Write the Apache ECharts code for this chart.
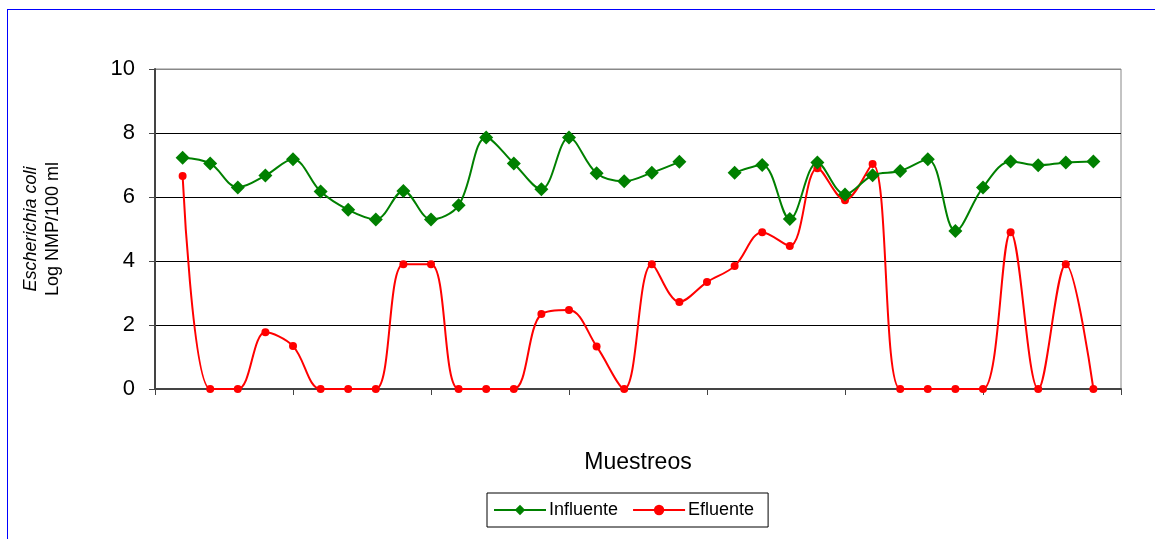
<!DOCTYPE html>
<html lang="es">

<head>
    <meta charset="UTF-8">
    <title>Escherichia coli - Muestreos</title>
    <style>
        body { margin: 0; background: #fff; }
        #frame {
            position: absolute; left: 7px; top: 9px; width: 1300px; height: 700px;
            border-left: 1px solid #0000ff; border-top: 1px solid #0000ff;
            z-index: 2; pointer-events: none;
        }
        #chart { position: absolute; left: 0; top: 0; width: 1155px; height: 539px; }
    </style>
</head>

<body>
    <div id="frame"></div>
    <div id="chart"></div>

    <script src="https://cdn.jsdelivr.net/npm/echarts@6/dist/echarts.min.js"></script>
    <script>
        // numero de muestreo (1..34)
        const muestreos = [1, 2, 3, 4, 5, 6, 7, 8, 9, 10, 11, 12, 13, 14, 15, 16, 17,
            18, 19, 20, 21, 22, 23, 24, 25, 26, 27, 28, 29, 30, 31, 32, 33, 34]

        // Log NMP/100 ml
        const influente = [7.23, 7.05, 6.3, 6.67, 7.18, 6.17, 5.6, 5.3, 6.19, 5.3,
            5.74, 7.86, 7.05, 6.24, 7.86, 6.74, 6.49, 6.76, 7.1, null,
            6.76, 7.0, 5.31, 7.08, 6.08, 6.68, 6.81, 7.18, 4.94, 6.3,
            7.11, 6.99, 7.08, 7.11]

        const efluente = [6.66, 0, 0, 1.77, 1.34, 0, 0, 0, 3.9, 3.9,
            0, 0, 0, 2.34, 2.47, 1.33, 0, 3.9, 2.72, 3.34,
            3.84, 4.9, 4.47, 6.9, 5.9, 7.03, 0, 0, 0, 0,
            4.9, 0, 3.9, 0]

        const yTicks = [0, 2, 4, 6, 8, 10]

        const pares = (vals) => muestreos.map((m, i) => [m, vals[i]])

        const myChart = echarts.init(document.getElementById('chart'))

        const option = {
            animation: false,
            textStyle: { fontFamily: 'Liberation Sans, Arial, sans-serif' },
            grid: {
                left: 155, right: 34, top: 69, bottom: 150,
                show: true, borderColor: '#888', borderWidth: 1
            },
            xAxis: {
                type: 'value',
                min: 0, max: 35, interval: 5,
                name: 'Muestreos',
                nameLocation: 'middle',
                nameGap: 62,
                nameTextStyle: { fontSize: 23, color: '#000' },
                axisLine: { lineStyle: { color: '#444', width: 2 } },
                axisTick: { show: true, length: 6, lineStyle: { color: '#444', width: 1 } },
                axisLabel: { show: false },
                splitLine: { show: false }
            },
            yAxis: {
                type: 'value',
                min: yTicks[0], max: yTicks[yTicks.length - 1], interval: 2,
                name: '{i|Escherichia coli}\n{n|Log NMP/100 ml}',
                nameLocation: 'middle',
                nameRotate: 90,
                nameGap: 91,
                nameTextStyle: {
                    color: '#000',
                    lineHeight: 22,
                    rich: {
                        i: { fontStyle: 'italic', fontSize: 18, color: '#000', lineHeight: 22 },
                        n: { fontSize: 18, color: '#000', lineHeight: 22 }
                    }
                },
                axisLine: { show: true, lineStyle: { color: '#444', width: 2 } },
                axisTick: { show: true, length: 6, lineStyle: { color: '#444' } },
                axisLabel: { fontSize: 22, color: '#000', margin: 20 },
                splitLine: {
                    show: true,
                    lineStyle: { color: ['#444', '#000', '#000', '#000', '#000', '#888'], width: 1 }
                }
            },
            legend: {
                left: 487, top: 493,
                padding: [8, 14, 8, 6],
                borderColor: '#000', borderWidth: 1, borderRadius: 0,
                itemWidth: 52, itemHeight: 13, itemGap: 14,
                textStyle: { fontSize: 18, color: '#000', padding: [0, 0, 0, -2] },
                data: ['Influente', 'Efluente']
            },
            series: [{
                name: 'Influente',
                type: 'line',
                data: pares(influente),
                smooth: 0.35,
                connectNulls: false,
                symbol: 'diamond',
                symbolSize: 14,
                itemStyle: { color: '#008000' },
                lineStyle: { color: '#008000', width: 2 },
                z: 3
            }, {
                name: 'Efluente',
                type: 'line',
                data: pares(efluente),
                smooth: 0.35,
                symbol: 'circle',
                symbolSize: 8,
                itemStyle: { color: '#ff0000' },
                lineStyle: { color: '#ff0000', width: 2 },
                z: 2
            }]
        }

        myChart.setOption(option)
    </script>
</body>

</html>
